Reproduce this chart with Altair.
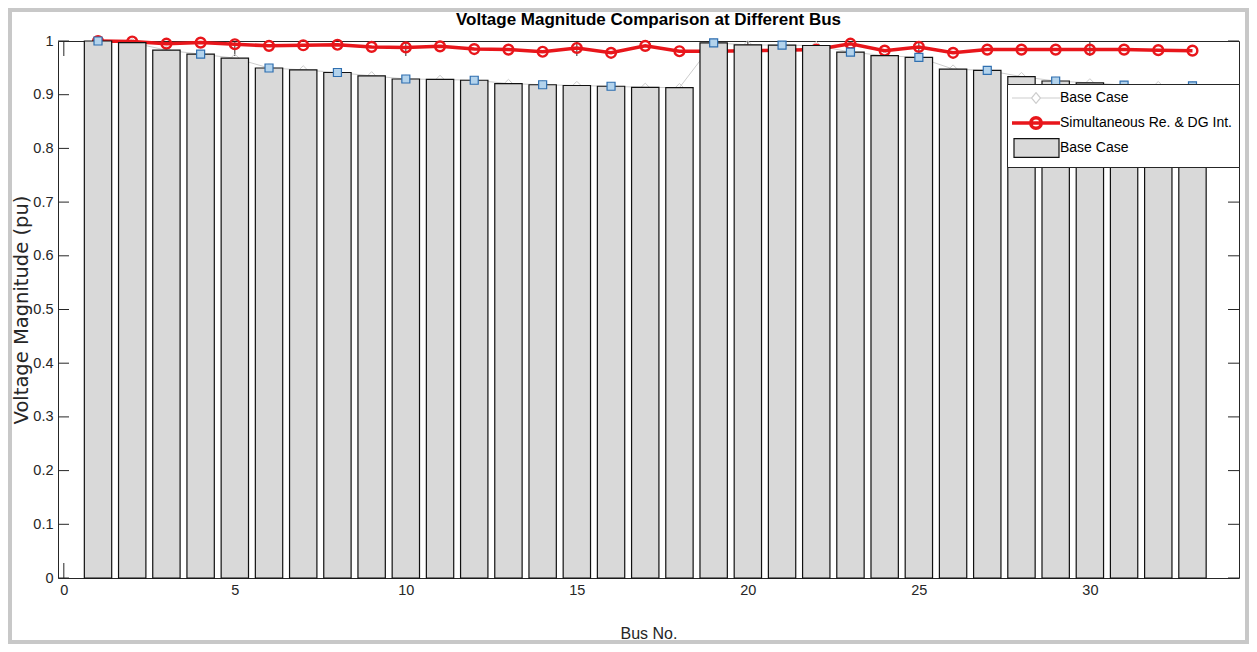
import altair as alt
import pandas as pd

# ---------------- data ----------------
buses = list(range(1, 34))
base_case = [1.0000, 0.9970, 0.9829, 0.9755, 0.9681, 0.9497, 0.9462, 0.9413, 0.9351,
             0.9292, 0.9284, 0.9269, 0.9208, 0.9185, 0.9171, 0.9157, 0.9137, 0.9131,
             0.9965, 0.9929, 0.9922, 0.9916, 0.9794, 0.9727, 0.9694, 0.9477, 0.9452,
             0.9337, 0.9255, 0.9220, 0.9178, 0.9169, 0.9166]
dg_case = [1.000, 0.999, 0.995, 0.997, 0.994, 0.991, 0.992, 0.993, 0.989,
           0.988, 0.990, 0.985, 0.984, 0.980, 0.987, 0.978, 0.991, 0.981,
           0.981, 0.982, 0.983, 0.984, 0.995, 0.982, 0.989, 0.978, 0.984,
           0.984, 0.984, 0.984, 0.984, 0.983, 0.982]
square_buses = [1, 4, 6, 8, 10, 12, 14, 16, 19, 21, 23, 25, 27, 29, 31, 33]
series_names = ["Base Case", "Simultaneous Re. & DG Int.", "Base Case (bar)"]
series_colors = ["#cdcdcd", "#e8161b", "#111111"]
x_ticks = [0, 5, 10, 15, 20, 25, 30]
y_ticks = [0, 0.1, 0.2, 0.3, 0.4, 0.5, 0.6, 0.7, 0.8, 0.9, 1.0]

title_text = "Voltage Magnitude Comparison at Different Bus"
x_title = "Bus No."
y_title = "Voltage Magnitude (pu)"

FONT = "Liberation Sans"
AXC = "#262626"

df_base = pd.DataFrame({"bus": buses, "v": base_case, "series": series_names[0]})
df_dg = pd.DataFrame({"bus": buses, "v": dg_case, "series": series_names[1]})
df_bar = pd.DataFrame({"bus": buses, "v": base_case, "series": series_names[2]})
df_sq = df_base[df_base["bus"].isin(square_buses)].reset_index(drop=True)
df_xt = pd.DataFrame({"t": x_ticks})
df_yt = pd.DataFrame({"t": y_ticks})

xs = alt.Scale(domain=[-0.17, 34.36], nice=False, zero=False)
ys = alt.Scale(domain=[0, 1], nice=False)
stroke_scale = alt.Scale(domain=series_names, range=series_colors)

# legend symbols (custom paths, bounds padded to equal height)
sym_expr = (
    "datum.value === 'Base Case (bar)' ? 'M-0.778,-1.05H4.222V1.05H-0.778Z' : "
    "datum.value === 'Base Case' ? 'M1.667,-1.05M1.667,1.05M-1,0H1.167M2.167,0H4.333M1.667,-0.6L2.167,0L1.667,0.6L1.167,0Z' : "
    "'M1.667,-1.05M1.667,1.05M-1,0H4.333M2.25,0A0.58,0.58,0,1,1,1.083,0A0.58,0.58,0,1,1,2.25,0'"
)
fill_expr = "datum.value === 'Base Case (bar)' ? '#d9d9d9' : 'transparent'"
sw_expr = "datum.value === 'Simultaneous Re. & DG Int.' ? 3.5 : 1.2"

legend = alt.Legend(
    title=None,
    orient="none",
    legendX=949,
    legendY=43,
    fillColor="white",
    strokeColor=AXC,
    padding=7,
    symbolType={"expr": sym_expr},
    symbolFillColor={"expr": fill_expr},
    symbolStrokeWidth={"expr": sw_expr},
    symbolSize=324,
    labelOffset=32,
    rowPadding=-4,
    labelFont=FONT,
    labelFontSize=14,
    labelColor="black",
    labelLimit=400,
    labelExpr="replace(datum.label, ' (bar)', '')",
)

ax_x = alt.Axis(values=x_ticks, format="d", ticks=False, domain=False, zindex=1,
                labelFont=FONT, labelFontSize=14.5, labelColor=AXC,
                labelPadding=5, labelFlush=False, grid=False, title=x_title,
                titleFont=FONT, titleFontSize=16, titleFontWeight="normal",
                titleColor=AXC, titlePadding=29)
ax_y = alt.Axis(values=y_ticks, format=".1~f", ticks=False, domain=False, zindex=1,
                labelFont=FONT, labelFontSize=14.5, labelColor=AXC,
                labelPadding=5, labelFlush=False, grid=False, title=y_title,
                titleFont="DejaVu Sans", titleFontSize=19.5, titleFontWeight="normal",
                titleColor=AXC, titlePadding=1)

X = lambda f: alt.X(f, scale=xs, axis=ax_x)
Y = lambda f: alt.Y(f, scale=ys, axis=ax_y)

xt_bottom = alt.Chart(df_xt).mark_rule(stroke=AXC, strokeWidth=1).encode(
    x=X("t:Q"), y=alt.value(537), y2=alt.value(522))
xt_top = alt.Chart(df_xt).mark_rule(stroke=AXC, strokeWidth=1).encode(
    x=X("t:Q"), y=alt.value(0), y2=alt.value(15))
yt_left = alt.Chart(df_yt).mark_rule(stroke=AXC, strokeWidth=1).encode(
    y=Y("t:Q"), x=alt.value(0), x2=alt.value(11))
yt_right = alt.Chart(df_yt).mark_rule(stroke=AXC, strokeWidth=1).encode(
    y=Y("t:Q"), x=alt.value(1181), x2=alt.value(1170))

base_line = alt.Chart(df_base).mark_line().encode(
    x=X("bus:Q"), y=Y("v:Q"),
    stroke=alt.Stroke("series:N", scale=stroke_scale, legend=legend),
    strokeWidth=alt.value(1),
)
base_pts = alt.Chart(df_base).mark_point(shape="diamond", filled=False, size=70,
                                         stroke="#cdcdcd", strokeWidth=1, opacity=1).encode(
    x=X("bus:Q"), y=Y("v:Q"),
)
dg_line = alt.Chart(df_dg).mark_line().encode(
    x=X("bus:Q"), y=Y("v:Q"),
    stroke=alt.Stroke("series:N", scale=stroke_scale, legend=legend),
    strokeWidth=alt.value(3.5),
)
dg_pts = alt.Chart(df_dg).mark_point(shape="circle", filled=False, size=95,
                                     stroke="#e8161b", strokeWidth=2.4, opacity=1).encode(
    x=X("bus:Q"), y=Y("v:Q"),
)
bars = alt.Chart(df_bar).transform_calculate(
    x0="datum.bus - 0.4", x1="datum.bus + 0.4"
).mark_rect().encode(
    x=X("x0:Q"),
    x2="x1:Q",
    y=Y("v:Q"),
    y2=alt.datum(0),
    stroke=alt.Stroke("series:N", scale=stroke_scale, legend=legend),
    fill=alt.Fill("series:N", scale=alt.Scale(domain=[series_names[2]], range=["#d9d9d9"]), legend=None),
    strokeWidth=alt.value(1.2),
)
squares = alt.Chart(df_sq).mark_point(shape="square", filled=True, size=64, fill="#b3d3ec",
                                      stroke="#2f6fb0", strokeWidth=1.2, opacity=1).encode(
    x=X("bus:Q"), y=Y("v:Q"),
)
# light grey picture frame; also fixes the chart bounds (plot origin at 50,33)
frame = alt.Chart(pd.DataFrame({"k": [0]})).mark_rect(
    fillOpacity=0, stroke="#c8c8c8", strokeWidth=4
).encode(
    x=alt.value(-48), x2=alt.value(1189), y=alt.value(-31), y2=alt.value(601)
)

chart = alt.layer(
    xt_bottom, xt_top, yt_left, yt_right,
    base_line, base_pts, dg_line, dg_pts, bars, squares, frame
).resolve_scale(
    fill="independent"
).properties(
    width=1181,
    height=537,
    padding=0,
    background="white",
    title=alt.TitleParams(title_text, font=FONT, fontSize=17, fontWeight="bold",
                          color="black", anchor="middle", frame="group", offset=-21),
).configure_view(
    stroke=AXC, strokeWidth=1
).configure_legend(
    symbolFillColor="transparent",
    symbolBaseFillColor={"expr": fill_expr},
)

chart.save("out.html", embed_options={"renderer": "svg", "actions": False})
